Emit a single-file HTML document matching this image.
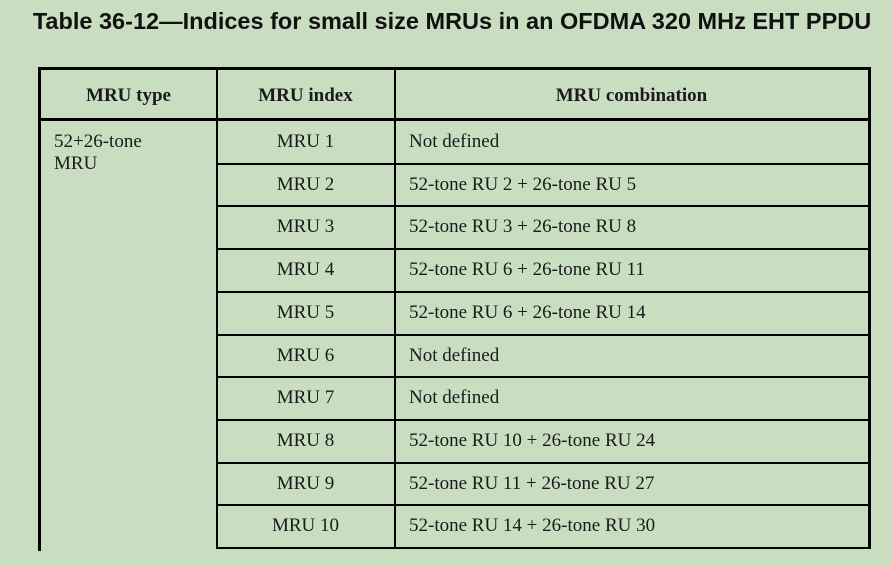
<!DOCTYPE html>
<html><head><meta charset="utf-8"><style>
body{margin:0;width:892px;height:566px;background:#c9dec1;position:relative;overflow:hidden;font-family:"Liberation Serif","Times New Roman","DejaVu Serif",serif;color:#1a1a1a}
.t{position:absolute;left:0;width:904px;top:8px;text-align:center;font:bold 23.5px "Liberation Sans","Arial",sans-serif;color:#111;white-space:nowrap}
.l{position:absolute;background:#000}
.c{position:absolute;font-family:"Liberation Serif","Times New Roman",serif;font-size:19px;line-height:22px;white-space:nowrap}
.h{font-weight:bold}
</style></head><body>
<div class="t">Table 36-12—Indices for small size MRUs in an OFDMA 320 MHz EHT PPDU</div>
<div id="tbl"></div>
<script>
var indices=["MRU 1","MRU 2","MRU 3","MRU 4","MRU 5","MRU 6","MRU 7","MRU 8","MRU 9","MRU 10"];
var combos=["Not defined","52-tone RU 2 + 26-tone RU 5","52-tone RU 3 + 26-tone RU 8","52-tone RU 6 + 26-tone RU 11","52-tone RU 6 + 26-tone RU 14","Not defined","Not defined","52-tone RU 10 + 26-tone RU 24","52-tone RU 11 + 26-tone RU 27","52-tone RU 14 + 26-tone RU 30"];
var tb=document.getElementById('tbl');
function L(x,y,w,h,n){var d=document.createElement('div');d.className='l';d.style.cssText='left:'+x+'px;top:'+y+'px;width:'+w+'px;height:'+h+'px';


tb.appendChild(d);}
function C(x,y,w,txt,cls,n,al){var d=document.createElement('div');d.className='c '+(cls||'');d.style.cssText='left:'+x+'px;top:'+y+'px;width:'+w+'px;text-align:'+al;d.textContent=txt;


tb.appendChild(d);}
L(38,67,833,3,'top-border');L(38,67,3,484,'left-border');L(868,67,3,482,'right-border');L(38,118,833,3,'header-rule');
L(216,67,1.5,482,'col-divider-1');L(394,67,1.5,482,'col-divider-2');
C(41,85,175,'MRU type','h','header-mru-type','center');C(217,85,177,'MRU index','h','header-mru-index','center');C(395,85,473,'MRU combination','h','header-mru-combination','center');
C(54,131,160,'52+26-tone','','mru-type-cell','left');C(54,153,160,'MRU','','mru-type-cell-2','left');
var top0=121,rh=42.7;
for(var i=0;i<indices.length;i++){var y=top0+i*rh;
 L(216,Math.round(y+rh)-1,655,1.5,'row-rule');
 C(217,Math.round(y+10),177,indices[i],'','mru-index-cell','center');
 C(409,Math.round(y+10),450,combos[i],'','mru-combination-cell','left');}
</script>
</body></html>
